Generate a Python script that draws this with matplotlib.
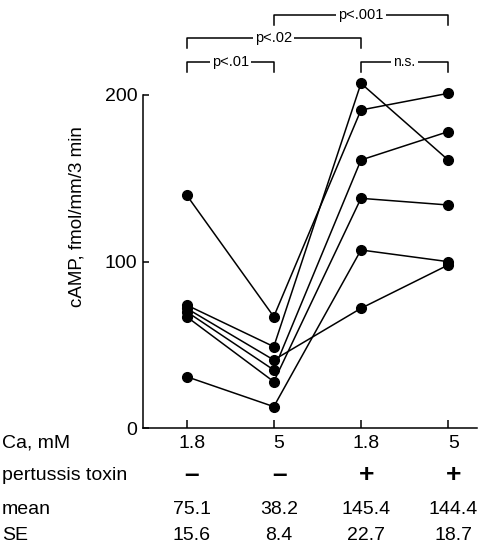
import matplotlib
matplotlib.use("Agg")
import matplotlib.pyplot as plt
import matplotlib.transforms as mtransforms

plt.rcParams['font.family'] = ['Liberation Sans', 'DejaVu Sans']

# ---------------------------------------------------------------------------
# data (one line per preparation)
# ---------------------------------------------------------------------------
groups = [0, 1, 2, 3]
ca_labels = ["1.8", "5", "1.8", "5"]
toxin_labels = ["\u2013", "\u2013", "+", "+"]
mean_labels = ["75.1", "38.2", "145.4", "144.4"]
se_labels = ["15.6", "8.4", "22.7", "18.7"]

prep_a = [140, 67, 191, 201]
prep_b = [74, 49, 207, 161]
prep_c = [72, 41, 72, 98]
prep_d = [70, 35, 161, 178]
prep_e = [67, 28, 138, 134]
prep_f = [31, 13, 107, 100]
preps = [prep_a, prep_b, prep_c, prep_d, prep_e, prep_f]

# significance brackets: (left group, right group, level, label)
brackets = [
    (0, 1, 220, "p<.01"),
    (0, 2, 234, "p<.02"),
    (1, 3, 248, "p<.001"),
    (2, 3, 220, "n.s."),
]

fig = plt.figure(figsize=(4.91, 5.43), dpi=100)
ax = fig.add_axes([0.2912, 0.2112, 0.6802, 0.7796])

for p in preps:
    ax.plot(groups, p, color="black", lw=1.1, marker="o", ms=7,
            clip_on=False, zorder=3)

ax.set_xlim(-0.5, 3.33)
ax.set_ylim(0, 254)
ax.spines["top"].set_visible(False)
ax.spines["right"].set_visible(False)
ax.spines["left"].set_bounds(0, 200)
ax.spines["left"].set_linewidth(1.1)
ax.spines["bottom"].set_linewidth(1.1)

ax.set_yticks([0, 100, 200])
ax.set_yticklabels(["0", "100", "200"])
ax.set_xticks(groups)
ax.set_xticklabels([])
ax.tick_params(axis="y", direction="in", length=4, width=1.1, pad=4,
               labelsize=14)
ax.tick_params(axis="x", direction="in", length=6, width=1.1)
ax.set_ylabel("cAMP, fmol/mm/3 min", fontsize=13.5, labelpad=14)

# brackets
drop = 6
for x0, x1, lev, lab in brackets:
    ax.plot([x0, x0, x1, x1], [lev - drop, lev, lev, lev - drop],
            color="black", lw=1.1, clip_on=False)
    ax.text((x0 + x1) / 2, lev, lab, ha="center", va="center",
            fontsize=10.5 if lab != "n.s." else 10,
            bbox=dict(facecolor="white", edgecolor="none", pad=1.5))

# table under the axis
trans = mtransforms.blended_transform_factory(ax.transData, fig.transFigure)
rows = [
    ("Ca, mM", ca_labels, 1 - 443 / 543),
    ("pertussis toxin", toxin_labels, 1 - 475 / 543),
    ("mean", mean_labels, 1 - 510 / 543),
    ("SE", se_labels, 1 - 535 / 543),
]
for name, vals, y in rows:
    fig.text(2 / 491, y, name, ha="left", va="center", fontsize=14)
    for g, v in zip(groups, vals):
        if v in ("+", "\u2013"):
            ax.text(g + 0.06, y, v, transform=trans, ha="center",
                    va="center", fontsize=19, fontweight="bold")
        else:
            ax.text(g + 0.06, y, v, transform=trans, ha="center",
                    va="center", fontsize=14)

fig.savefig("out.png", dpi=100)
